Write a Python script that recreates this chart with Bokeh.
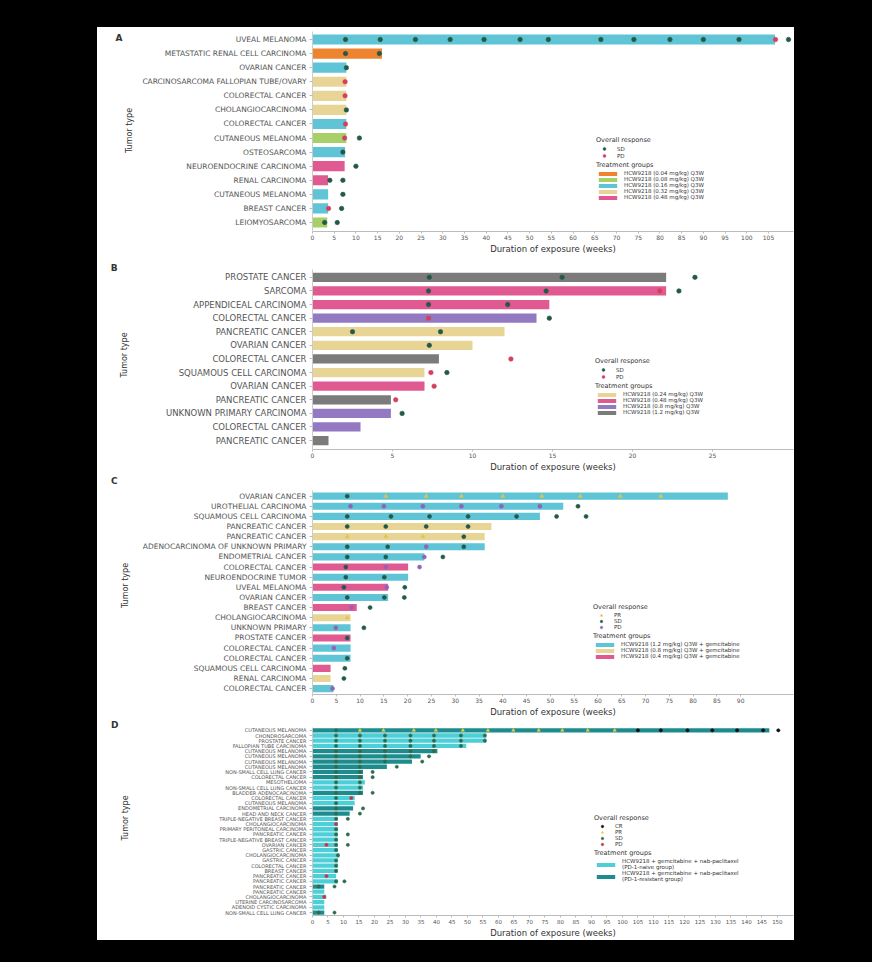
from bokeh.plotting import figure
from bokeh.models import (Range1d, FixedTicker, Legend, LegendItem, ColumnDataSource,
                          LinearAxis)
from bokeh.layouts import column
from bokeh.embed import file_html
from bokeh.resources import INLINE

# ---------------- Panel A ----------------
A_tumors = ["UVEAL MELANOMA", "METASTATIC RENAL CELL CARCINOMA", "OVARIAN CANCER",
            "CARCINOSARCOMA FALLOPIAN TUBE/OVARY", "COLORECTAL CANCER", "CHOLANGIOCARCINOMA",
            "COLORECTAL CANCER", "CUTANEOUS MELANOMA", "OSTEOSARCOMA", "NEUROENDOCRINE CARCINOMA",
            "RENAL CARCINOMA", "CUTANEOUS MELANOMA", "BREAST CANCER", "LEIOMYOSARCOMA"]
A_weeks = [106.5, 16.0, 7.8, 7.8, 7.8, 7.8, 7.8, 7.8, 7.5, 7.4, 3.6, 3.6, 3.6, 3.4]
A_groups = ["g3", "g1", "g3", "g4", "g4", "g4", "g3", "g2", "g3", "g5", "g5", "g3", "g3", "g2"]
A_group_order = ["g1", "g2", "g3", "g4", "g5"]
A_group_labels = ["HCW9218 (0.04 mg/kg) Q3W", "HCW9218 (0.08 mg/kg) Q3W", "HCW9218 (0.16 mg/kg) Q3W",
                  "HCW9218 (0.32 mg/kg) Q3W", "HCW9218 (0.48 mg/kg) Q3W"]
A_resp_row = [1, 1, 1, 1, 1, 1, 1, 1, 1, 1, 1, 1, 1, 1,
              2, 2, 3, 4, 5, 6, 7, 8, 8, 9, 10, 11, 11, 12, 13, 13, 14, 14]
A_resp_week = [7.6, 15.6, 23.7, 31.7, 39.5, 47.8, 54.3, 66.4, 74.0, 82.3, 90.0, 98.2, 106.6, 109.6,
               7.6, 15.4, 7.8, 7.5, 7.5, 7.8, 7.6, 7.4, 10.8, 7.0, 10.0, 4.0, 7.0, 7.0, 3.7, 6.7, 2.8, 5.7]
A_resp_type = ["SD", "SD", "SD", "SD", "SD", "SD", "SD", "SD", "SD", "SD", "SD", "SD", "PD", "SD",
               "SD", "SD", "SD", "PD", "PD", "SD", "PD", "PD", "SD", "SD", "SD", "SD", "SD", "SD", "PD", "SD", "SD", "SD"]
A_xticks = [0, 5, 10, 15, 20, 25, 30, 35, 40, 45, 50, 55, 60, 65, 70, 75, 80, 85, 90, 95, 100, 105]

# ---------------- Panel B ----------------
B_tumors = ["PROSTATE CANCER", "SARCOMA", "APPENDICEAL CARCINOMA", "COLORECTAL CANCER",
            "PANCREATIC CANCER", "OVARIAN CANCER", "COLORECTAL CANCER", "SQUAMOUS CELL CARCINOMA",
            "OVARIAN CANCER", "PANCREATIC CANCER", "UNKNOWN PRIMARY CARCINOMA", "COLORECTAL CANCER",
            "PANCREATIC CANCER"]
B_weeks = [22.1, 22.1, 14.8, 14.0, 12.0, 10.0, 7.9, 7.0, 7.0, 4.9, 4.9, 3.0, 1.0]
B_groups = ["g4", "g2", "g2", "g3", "g1", "g1", "g4", "g1", "g2", "g4", "g3", "g3", "g4"]
B_group_order = ["g1", "g2", "g3", "g4"]
B_group_labels = ["HCW9218 (0.24 mg/kg) Q3W", "HCW9218 (0.48 mg/kg) Q3W",
                  "HCW9218 (0.8 mg/kg) Q3W", "HCW9218 (1.2 mg/kg) Q3W"]
B_resp_row = [1, 1, 1, 2, 2, 2, 2, 3, 3, 4, 4, 5, 5, 6, 7, 8, 8, 9, 10, 11]
B_resp_week = [7.3, 15.6, 23.9, 7.25, 14.6, 21.7, 22.9, 7.25, 12.2, 7.25, 14.8, 2.5, 8.0, 7.3, 12.4,
               7.4, 8.4, 7.6, 5.2, 5.6]
B_resp_type = ["SD", "SD", "SD", "SD", "SD", "PD", "SD", "SD", "SD", "PD", "SD", "SD", "SD", "SD", "PD",
               "PD", "SD", "PD", "PD", "SD"]
B_xticks = [0, 5, 10, 15, 20, 25]

# ---------------- Panel C ----------------
C_tumors = ["OVARIAN CANCER", "UROTHELIAL CARCINOMA", "SQUAMOUS CELL CARCINOMA", "PANCREATIC CANCER",
            "PANCREATIC CANCER", "ADENOCARCINOMA OF UNKNOWN PRIMARY", "ENDOMETRIAL CANCER",
            "COLORECTAL CANCER", "NEUROENDOCRINE TUMOR", "UVEAL MELANOMA", "OVARIAN CANCER",
            "BREAST CANCER", "CHOLANGIOCARCINOMA", "UNKNOWN PRIMARY", "PROSTATE CANCER",
            "COLORECTAL CANCER", "COLORECTAL CANCER", "SQUAMOUS CELL CARCINOMA", "RENAL CARCINOMA",
            "COLORECTAL CANCER"]
C_weeks = [87.3, 52.7, 47.8, 37.6, 36.2, 36.2, 23.5, 20.1, 20.1, 15.9, 15.9, 9.3, 8.0, 8.0, 8.0,
           8.0, 8.0, 3.8, 3.8, 4.4]
C_groups = ["g1", "g1", "g1", "g2", "g2", "g1", "g1", "g3", "g1", "g3", "g1", "g3", "g2", "g1", "g3",
            "g1", "g1", "g3", "g2", "g1"]
C_group_order = ["g1", "g2", "g3"]
C_group_labels = ["HCW9218 (1.2 mg/kg) Q3W + gemcitabine", "HCW9218 (0.8 mg/kg) Q3W + gemcitabine",
                  "HCW9218 (0.4 mg/kg) Q3W + gemcitabine"]
C_resp_row = [1, 1, 1, 1, 1, 1, 1, 1, 1,
              2, 2, 2, 2, 2, 2, 2,
              3, 3, 3, 3, 3, 3, 3,
              4, 4, 4, 4,
              5, 5, 5, 5,
              6, 6, 6, 6,
              7, 7, 7, 7,
              8, 8, 8,
              9, 9,
              10, 10, 10,
              11, 11, 11,
              12, 12, 13, 14, 14, 15, 16, 17, 18, 19, 20]
C_resp_week = [7.3, 15.4, 23.9, 31.3, 40.0, 48.2, 56.3, 64.7, 73.2,
               8.0, 15.0, 23.2, 31.3, 39.7, 47.8, 55.8,
               7.3, 16.5, 24.6, 32.7, 42.9, 51.3, 57.5,
               7.3, 15.4, 23.9, 32.7,
               7.3, 15.4, 23.2, 31.8,
               7.3, 15.8, 23.9, 31.8,
               7.3, 15.4, 23.5, 27.4,
               7.0, 15.4, 22.5,
               7.0, 15.1,
               6.6, 15.6, 19.4,
               7.3, 15.1, 19.3,
               8.2, 12.1, 7.3, 4.9, 10.8, 7.3, 4.5, 7.3, 6.8, 6.6, 4.2]
C_resp_type = ["SD", "PR", "PR", "PR", "PR", "PR", "PR", "PR", "PR",
               "PD", "PD", "PD", "PD", "PD", "PD", "SD",
               "SD", "SD", "SD", "SD", "SD", "SD", "SD",
               "SD", "SD", "SD", "SD",
               "PR", "PR", "PR", "SD",
               "SD", "SD", "PD", "SD",
               "SD", "SD", "PD", "SD",
               "SD", "PD", "PD",
               "SD", "SD",
               "SD", "PD", "SD",
               "SD", "SD", "SD",
               "PD", "SD", "PR", "PD", "SD", "SD", "PD", "SD", "SD", "SD", "PD"]
C_xticks = [0, 5, 10, 15, 20, 25, 30, 35, 40, 45, 50, 55, 60, 65, 70, 75, 80, 85, 90]

# ---------------- Panel D ----------------
D_tumors = ["CUTANEOUS MELANOMA", "CHONDROSARCOMA", "PROSTATE CANCER", "FALLOPIAN TUBE CARCINOMA",
            "CUTANEOUS MELANOMA", "CUTANEOUS MELANOMA", "CUTANEOUS MELANOMA", "CUTANEOUS MELANOMA",
            "NON-SMALL CELL LUNG CANCER", "COLORECTAL CANCER", "MESOTHELIOMA",
            "NON-SMALL CELL LUNG CANCER", "BLADDER ADENOCARCINOMA", "COLORECTAL CANCER",
            "CUTANEOUS MELANOMA", "ENDOMETRIAL CARCINOMA", "HEAD AND NECK CANCER",
            "TRIPLE-NEGATIVE BREAST CANCER", "CHOLANGIOCARCINOMA", "PRIMARY PERITONEAL CARCINOMA",
            "PANCREATIC CANCER", "TRIPLE-NEGATIVE BREAST CANCER", "OVARIAN CANCER", "GASTRIC CANCER",
            "CHOLANGIOCARCINOMA", "GASTRIC CANCER", "COLORECTAL CANCER", "BREAST CANCER",
            "PANCREATIC CANCER", "PANCREATIC CANCER", "PANCREATIC CANCER", "PANCREATIC CANCER",
            "CHOLANGIOCARCINOMA", "UTERINE CARCINOSARCOMA", "ADENOID CYSTIC CARCINOMA",
            "NON-SMALL CELL LUNG CANCER"]
D_weeks = [147.4, 56.1, 56.1, 49.6, 40.3, 34.9, 32.1, 24.0, 16.3, 16.3, 16.9, 16.3, 16.3, 13.6, 13.6,
           13.1, 12.0, 8.2, 8.2, 8.2, 8.2, 8.2, 8.2, 8.2, 8.7, 8.2, 8.2, 8.2, 7.6, 8.2, 3.8, 3.8, 4.4,
           3.8, 3.8, 3.8]
D_groups = ["g2", "g1", "g1", "g1", "g2", "g2", "g2", "g2", "g2", "g2", "g1", "g1", "g2", "g1", "g1",
            "g2", "g2", "g1", "g1", "g1", "g1", "g1", "g1", "g1", "g1", "g1", "g1", "g1", "g1", "g1",
            "g2", "g1", "g1", "g1", "g1", "g2"]
D_group_order = ["g1", "g2"]
D_group_labels = ["HCW9218 + gemcitabine + nab-paclitaxel\n(PD-1-naive group)",
                  "HCW9218 + gemcitabine + nab-paclitaxel\n(PD-1-resistant group)"]
D_resp_row = [1, 1, 1, 1, 1, 1, 1, 1, 1, 1, 1, 1, 1, 1, 1, 1, 1, 1, 1,
              2, 2, 2, 2, 2, 2, 2,
              3, 3, 3, 3, 3, 3, 3,
              4, 4, 4, 4, 4, 4,
              5, 5, 5, 5, 5,
              6, 6, 6, 6, 6,
              7, 7, 7, 7,
              8, 8, 8,
              9, 9, 9,
              10, 10, 10,
              11, 11,
              12, 12,
              13, 13, 13,
              14, 14,
              15,
              16, 16,
              17, 17,
              18, 18,
              19,
              20,
              21, 21,
              22,
              23, 23, 23,
              24, 25, 26, 27, 28, 29,
              30, 30,
              31, 31,
              33,
              36, 36]
D_resp_week = [7.6, 15.3, 22.9, 32.7, 39.8, 48.5, 56.6, 64.8, 73.0, 80.6, 88.8, 97.5, 105.0, 112.4,
               121.0, 129.0, 137.0, 145.4, 150.3,
               7.6, 15.3, 23.4, 31.6, 39.2, 47.9, 55.6,
               7.6, 15.3, 23.4, 31.6, 39.2, 47.9, 55.6,
               7.6, 15.3, 23.4, 31.6, 39.2, 47.9,
               7.6, 15.3, 23.4, 31.6, 39.2,
               7.6, 15.3, 23.4, 31.6, 37.6,
               7.6, 15.3, 23.4, 35.4,
               7.6, 15.3, 27.2,
               7.6, 15.3, 19.4,
               7.6, 15.3, 19.4,
               7.6, 15.3,
               7.6, 15.3,
               7.6, 15.3, 19.4,
               7.6, 12.5,
               7.6,
               7.6, 16.3,
               7.6, 15.3,
               7.6, 11.4,
               7.6,
               7.6,
               7.6, 11.4,
               7.6,
               4.5, 7.6, 11.4,
               7.6, 8.2, 7.6, 7.6, 7.6, 4.5,
               7.6, 10.3,
               2.0, 7.1,
               3.8,
               2.0, 7.1]
D_resp_type = ["SD", "PR", "PR", "PR", "PR", "PR", "PR", "PR", "PR", "PR", "PR", "PR", "CR", "CR",
               "CR", "CR", "CR", "CR", "CR",
               "SD", "SD", "SD", "SD", "SD", "SD", "SD",
               "SD", "SD", "SD", "SD", "SD", "SD", "SD",
               "SD", "SD", "SD", "SD", "SD", "SD",
               "SD", "SD", "SD", "SD", "SD",
               "SD", "SD", "SD", "SD", "SD",
               "SD", "SD", "SD", "SD",
               "SD", "SD", "SD",
               "SD", "SD", "SD",
               "SD", "SD", "SD",
               "SD", "SD",
               "SD", "SD",
               "SD", "SD", "SD",
               "SD", "PD",
               "SD",
               "SD", "SD",
               "SD", "SD",
               "SD", "SD",
               "PD",
               "SD",
               "SD", "SD",
               "SD",
               "PD", "SD", "SD",
               "SD", "SD", "SD", "SD", "SD", "PD",
               "SD", "SD",
               "SD", "SD",
               "PD",
               "SD", "SD"]
D_xticks = [0, 5, 10, 15, 20, 25, 30, 35, 40, 45, 50, 55, 60, 65, 70, 75, 80, 85, 90, 95, 100, 105,
            110, 115, 120, 125, 130, 135, 140, 145, 150]

# ---------------- styling ----------------
FONT = "DejaVu Sans"
FIG_W = 697
MB_LEFT = 215
MB_RIGHT = 1


def build_panel(tumors, weeks, groups, group_order, group_labels, group_colors,
                resp_row, resp_week, resp_type, resp_order, resp_colors, resp_markers,
                xticks, x_end, geo, bar_h, ylab_size, ylab_standoff, xtick_size, msize,
                letter, leg_x, leg2_bottom, leg_label_size, item_h, leg2_item_h):
    panel_top, height, frame_top, frame_bottom, first_row, last_row, letter_py = geo
    n = len(tumors)
    ypos = [n - i for i in range(n)]
    ppy = (last_row - first_row) / (n - 1)
    y1 = n + (first_row - frame_top) / ppy
    y0 = 1 - (frame_bottom - last_row) / ppy
    mb_top = frame_top - panel_top
    mb_bottom = panel_top + height - frame_bottom
    p = figure(width=FIG_W, height=height, output_backend="svg", toolbar_location=None,
               x_range=Range1d(0, x_end), y_range=Range1d(y0, y1),
               min_border_left=MB_LEFT, min_border_right=MB_RIGHT,
               min_border_top=mb_top, min_border_bottom=mb_bottom,
               background_fill_color="white", border_fill_color="white",
               outline_line_color=None)
    p.grid.visible = False

    bars = {}
    for g, col in zip(group_order, group_colors):
        idx = [i for i, gg in enumerate(groups) if gg == g]
        src = ColumnDataSource(dict(y=[ypos[i] for i in idx], right=[weeks[i] for i in idx]))
        bars[g] = p.hbar(y="y", left=0, right="right", height=bar_h, source=src,
                         fill_color=col, line_color=None)

    marks = {}
    for t in resp_order:
        idx = [k for k, tt in enumerate(resp_type) if tt == t]
        if not idx:
            continue
        src = ColumnDataSource(dict(x=[resp_week[k] for k in idx],
                                    y=[n - resp_row[k] + 1 for k in idx]))
        marks[t] = p.scatter(x="x", y="y", source=src, marker=resp_markers[t], size=msize,
                             fill_color=resp_colors[t], line_color=resp_colors[t], line_width=0.6)

    # x axis
    xa = p.xaxis[0]
    xa.ticker = FixedTicker(ticks=xticks)
    xa.axis_label = "Duration of exposure (weeks)"
    xa.axis_label_text_font = FONT
    xa.axis_label_text_font_size = "8.5px"
    xa.axis_label_text_font_style = "normal"
    xa.axis_label_text_color = "#333333"
    xa.axis_label_standoff = 1
    xa.major_label_text_font = FONT
    xa.major_label_text_font_size = xtick_size
    xa.major_label_text_color = "#555555"
    xa.major_label_standoff = 1
    xa.major_tick_out = 2
    xa.major_tick_in = 0
    xa.minor_tick_out = 0
    xa.minor_tick_in = 0
    xa.axis_line_color = "#BBBBBB"
    xa.major_tick_line_color = "#BBBBBB"

    # y axis (tumor types)
    ya = p.yaxis[0]
    ya.ticker = FixedTicker(ticks=ypos)
    ya.bounds = (y0, n + 0.6)
    ya.major_label_overrides = {ypos[i]: tumors[i] for i in range(n)}
    ya.axis_label = "Tumor type"
    ya.axis_label_text_font = FONT
    ya.axis_label_text_font_size = "8px"
    ya.axis_label_text_font_style = "normal"
    ya.axis_label_text_color = "#333333"
    ya.axis_label_standoff = ylab_standoff
    ya.major_label_text_font = FONT
    ya.major_label_text_font_size = ylab_size
    ya.major_label_text_color = "#555555"
    ya.major_label_standoff = 3
    ya.major_tick_out = 3
    ya.major_tick_in = 0
    ya.minor_tick_out = 0
    ya.minor_tick_in = 0
    ya.axis_line_color = "#CCCCCC"
    ya.major_tick_line_color = "#BBBBBB"

    # panel letter, drawn as the single tick label of an outer left axis
    letter_y = round(n + (first_row - letter_py) / ppy, 3)
    la = LinearAxis(ticker=FixedTicker(ticks=[letter_y]),
                    major_label_overrides={letter_y: letter},
                    axis_line_color=None, major_tick_line_color=None,
                    major_tick_out=0, major_tick_in=0, minor_tick_out=0, minor_tick_in=0,
                    major_label_standoff=0, major_label_text_font=FONT,
                    major_label_text_font_size="9px", major_label_text_font_style="bold",
                    major_label_text_color="#333333")
    p.add_layout(la, "left")

    common = dict(padding=0, margin=0, spacing=0, label_standoff=5, title_standoff=1,
                  background_fill_alpha=0, border_line_alpha=0,
                  title_text_font=FONT, title_text_font_size="6.5px", title_text_font_style="normal",
                  title_text_color="#333333",
                  label_text_font=FONT, label_text_font_size=leg_label_size,
                  label_text_color="#333333")
    n_groups = len(group_order)
    leg2_h = 10 + n_groups * leg2_item_h
    leg1_bottom = leg2_bottom + leg2_h + 1
    leg1 = Legend(items=[LegendItem(label=t, renderers=[marks[t]]) for t in resp_order if t in marks],
                  title="Overall response", location=(leg_x, leg1_bottom), glyph_width=16,
                  glyph_height=item_h, label_height=item_h, **common)
    leg2 = Legend(items=[LegendItem(label=lab, renderers=[bars[g]])
                         for g, lab in zip(group_order, group_labels)],
                  title="Treatment groups", location=(leg_x, leg2_bottom), glyph_width=23,
                  glyph_height=5, label_height=leg2_item_h, **common)
    p.add_layout(leg1)
    p.add_layout(leg2)
    return p


CYAN = "#5EC4D6"
ORANGE = "#EE8430"
TAN = "#E8D595"
GREEN = "#A8D068"
PINK = "#E05A91"
PURPLE = "#9379C2"
GRAY = "#7B7B7B"
SD_C = "#24594A"
PD_C = "#D43F5E"

# geometry: (panel top, height, frame top, frame bottom, first row, last row, letter y) in page px
pA = build_panel(A_tumors, A_weeks, A_groups, A_group_order, A_group_labels,
                 [ORANGE, GREEN, CYAN, TAN, PINK],
                 A_resp_row, A_resp_week, A_resp_type, ["SD", "PD"],
                 {"SD": SD_C, "PD": PD_C}, {"SD": "circle", "PD": "circle"},
                 A_xticks, 110.75, (27, 231, 29, 231, 39, 222, 37),
                 0.72, "7.5px", 5, "6px", 4.5, "A", 284, 31, "5.5px", 7, 6)

pB = build_panel(B_tumors, B_weeks, B_groups, B_group_order, B_group_labels,
                 [TAN, PINK, PURPLE, GRAY],
                 B_resp_row, B_resp_week, B_resp_type, ["SD", "PD"],
                 {"SD": SD_C, "PD": PD_C}, {"SD": "circle", "PD": "circle"},
                 B_xticks, 30.06, (258, 216, 260, 451, 277, 442, 268),
                 0.68, "8.5px", 34, "6px", 4.5, "B", 283, 34, "5.5px", 7, 6)

pC = build_panel(C_tumors, C_weeks, C_groups, C_group_order, C_group_labels,
                 [CYAN, TAN, PINK],
                 C_resp_row, C_resp_week, C_resp_type, ["PR", "SD", "PD"],
                 {"PR": "#E3C34C", "SD": SD_C, "PD": "#9063B5"},
                 {"PR": "triangle", "SD": "circle", "PD": "circle"},
                 C_xticks, 101.1, (474, 245, 476, 698, 496, 692, 481),
                 0.7, "7.5px", 10, "6px", 4.0, "C", 281, 35, "5.5px", 6, 6)

pD = build_panel(D_tumors, D_weeks, D_groups, D_group_order, D_group_labels,
                 ["#4CCFD6", "#1C8C8E"],
                 D_resp_row, D_resp_week, D_resp_type, ["CR", "PR", "SD", "PD"],
                 {"CR": "#111111", "PR": "#E8D04A", "SD": "#2E6B4F", "PD": "#C8334A"},
                 {"CR": "circle", "PR": "triangle", "SD": "circle", "PD": "circle"},
                 D_xticks, 155.2, (719, 221, 720, 919, 730, 916, 725),
                 0.82, "5px", 86, "5.5px", 3.2, "D", 282, 33, "5.5px", 6, 12)

inner = column(pA, pB, pC, pD, spacing=0, margin=(27, 0, 0, 97),
               styles={"background-color": "#FFFFFF"})
p = column(inner, width=872, height=962, margin=0,
           styles={"background-color": "#000000"})

html = file_html(p, INLINE)
html = html.replace("<body>", '<body style="background-color:#000000;">', 1)
open("out.html", "w").write(html)
